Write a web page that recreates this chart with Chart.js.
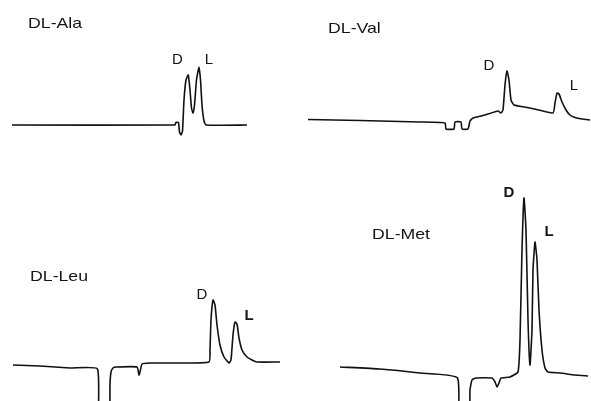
<!DOCTYPE html>
<html>
<head>
<meta charset="utf-8">
<script src="https://cdn.jsdelivr.net/npm/chart.js@4"></script>
<style>
  html, body { margin: 0; padding: 0; background: #fff; }
  #wrap { position: relative; width: 591px; height: 401px; overflow: hidden; background: #fff; }
  .panel { position: absolute; }
  .title { position: absolute; font-family: "Liberation Sans", Arial, sans-serif; font-size: 15px; line-height: 15px;
           color: #151515; transform: scaleX(1.18); transform-origin: left top; white-space: nowrap; }
</style>
</head>
<body>
<div id="wrap">
  <canvas id="c1" class="panel" style="left:0;top:0" width="295" height="170"></canvas>
  <canvas id="c2" class="panel" style="left:295px;top:0" width="296" height="170"></canvas>
  <canvas id="c3" class="panel" style="left:0;top:170px" width="295" height="231"></canvas>
  <canvas id="c4" class="panel" style="left:295px;top:170px" width="296" height="231"></canvas>
  <div class="title" style="left:28px;top:15px">DL-Ala</div>
  <div class="title" style="left:328px;top:20px">DL-Val</div>
  <div class="title" style="left:30px;top:268px">DL-Leu</div>
  <div class="title" style="left:372px;top:226px">DL-Met</div>
</div>
<script>
// ---- Data (retention time, min; detector signal, arbitrary units) ----
const alaTime   = [1.2, 17.5, 17.6, 17.85, 17.95, 18.1, 18.25, 18.4, 18.6, 18.83, 19.0, 19.15, 19.3, 19.45, 19.65, 19.9, 20.05, 20.2, 20.4, 20.6, 24.7];
const alaSignal = [0, 0, 2.5, 2.5, -7, -10, -6, 25, 45, 50, 35, 17, 12, 20, 45, 58, 45, 20, 4, 0, 0];

const valTime   = [1.3, 6.5, 12.5, 15.0, 15.1, 15.9, 16.0, 16.6, 16.7, 17.3, 17.5, 17.8, 19.0, 20.3, 20.6, 20.8, 21.0, 21.2, 21.4, 21.6, 21.9, 23.5, 25.8, 26.0, 26.2, 26.4, 26.7, 27.1, 27.5, 28.0, 28.7, 29.5];
const valSignal = [5.5, 4.5, 3, 2, -4, -4, 3, 3, -4, -4, 4, 7, 10, 14, 12, 15, 40, 54, 45, 25, 20, 17, 12, 22, 32, 31, 23, 15, 10, 7.5, 6, 5];

const leuTime   = [1.3, 4.0, 7.0, 9.75, 9.85, 10.9, 11.0, 11.1, 11.3, 11.6, 13.7, 13.9, 14.0, 14.2, 15.0, 17.5, 20.9, 21.0, 21.1, 21.3, 21.5, 21.7, 22.0, 22.4, 22.9, 23.1, 23.3, 23.5, 23.7, 23.9, 24.2, 24.7, 25.2, 25.7, 28.0];
const leuSignal = [0, -1, -3, -4, -75, -75, -20, -7, -3, -2, -2, -10, -7, 1, 2, 2, 3, 15, 45, 65, 60, 40, 20, 8, 2, 5, 30, 43, 41, 27, 15, 8, 5, 3, 3];

const metTime   = [4.5, 8.5, 12.5, 16.25, 16.35, 17.4, 17.5, 17.7, 18.1, 19.7, 20.0, 20.2, 20.4, 20.6, 21.5, 22.3, 22.5, 22.7, 22.9, 23.1, 23.3, 23.5, 23.7, 23.8, 24.0, 24.2, 24.4, 24.7, 25.0, 25.3, 26.5, 28.0, 29.3];
const metSignal = [-2, -4, -8, -13, -75, -75, -25, -15, -13, -13, -17, -22, -18, -13, -12, -7, 25, 115, 167, 135, 45, 0, 35, 95, 123, 105, 55, 15, -3, -7, -8, -10, -11];

// Peak labels: [text, time, signal, bold]
const alaLabels = [["D", 17.75, 66.5, false], ["L", 20.9, 66.5, false]];
const valLabels = [["D", 19.4, 60, false], ["L", 27.9, 40, false]];
const leuLabels = [["D", 20.2, 71, false], ["L", 24.9, 50, true]];
const metLabels = [["D", 21.4, 173, true], ["L", 25.4, 134, true]];

const peakLabelPlugin = {
  id: 'peakLabels',
  afterDatasetsDraw(chart, args, opts) {
    const ctx = chart.ctx;
    const xs = chart.scales.x, ys = chart.scales.y;
    ctx.save();
    ctx.fillStyle = '#151515';
    ctx.textAlign = 'center';
    ctx.textBaseline = 'alphabetic';
    (opts.items || []).forEach(([t, x, y, bold]) => {
      const size = 15;
      ctx.font = (bold ? 'bold ' : '') + size + 'px "Liberation Sans", Arial, sans-serif';
      ctx.fillText(t, xs.getPixelForValue(x), ys.getPixelForValue(y) + 0.358 * size);
    });
    ctx.restore();
  }
};

function makeChart(id, times, signals, labels, xMax, yMin, yMax) {
  const pts = times.map((t, i) => ({ x: t, y: signals[i] }));
  return new Chart(document.getElementById(id), {
    type: 'line',
    data: { datasets: [{ data: pts, borderColor: '#111', borderWidth: 1.6, pointRadius: 0,
                         tension: 0.15, fill: false, clip: false }] },
    options: {
      responsive: false, animation: false,
      layout: { padding: 0 },
      scales: {
        x: { type: 'linear', min: 0, max: xMax, display: false },
        y: { type: 'linear', min: yMin, max: yMax, display: false }
      },
      plugins: { legend: { display: false }, tooltip: { enabled: false }, peakLabels: { items: labels } }
    },
    plugins: [peakLabelPlugin]
  });
}

makeChart('c1', alaTime, alaSignal, alaLabels, 29.5, -45, 125);
makeChart('c2', valTime, valSignal, valLabels, 29.6, -45, 125);
makeChart('c3', leuTime, leuSignal, leuLabels, 29.5, -36, 195);
makeChart('c4', metTime, metSignal, metLabels, 29.6, -36, 195);
</script>
</body>
</html>
